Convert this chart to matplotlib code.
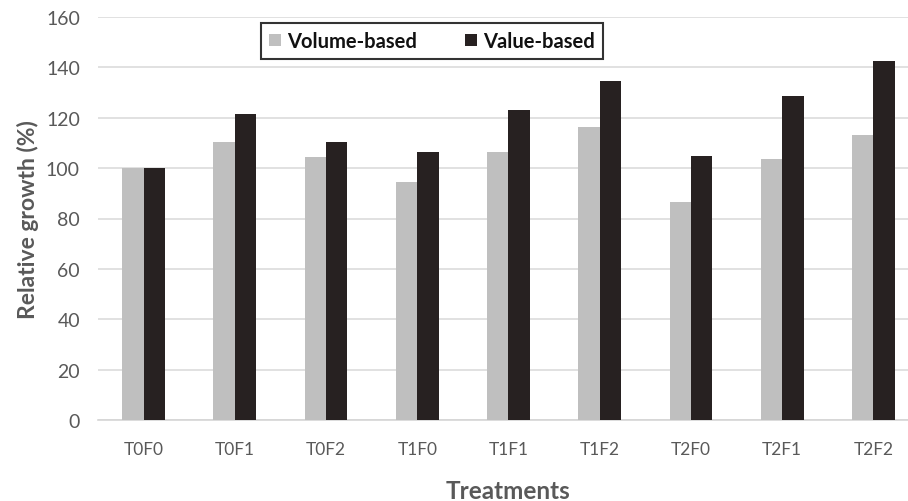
import numpy as np
import matplotlib.pyplot as plt

# data
treatments = ['T0F0', 'T0F1', 'T0F2', 'T1F0', 'T1F1', 'T1F2', 'T2F0', 'T2F1', 'T2F2']
volume_based = [100, 110.3, 104.4, 94.4, 106.3, 116.3, 86.5, 103.6, 113.1]
value_based = [100, 121.4, 110.3, 106.3, 123.0, 134.5, 104.8, 128.6, 142.5]
y_ticks = [0, 20, 40, 60, 80, 100, 120, 140, 160]

plt.rcParams['font.family'] = ['Lato', 'DejaVu Sans']

fig = plt.figure(figsize=(9.08, 5.02), dpi=100)
ax = fig.add_axes([98 / 908, 81 / 502, 821 / 908, 403 / 502])

x = np.arange(len(treatments))
w = 0.235
ax.bar(x - w / 2, volume_based, w, color='#bfbfbf', label='Volume-based', zorder=3)
ax.bar(x + w / 2, value_based, w, color='#272121', label='Value-based', zorder=3)

ax.set_xlim(-0.5, len(treatments) - 0.5)
ax.set_ylim(0, 160)
ax.set_yticks(y_ticks)
ax.set_xticks(x)
ax.set_xticklabels(treatments)
ax.grid(axis='y', color='#dcdcdc', linewidth=1.2, zorder=0)
for s in ['top', 'right', 'left']:
    ax.spines[s].set_visible(False)
ax.spines['bottom'].set_color('#d6d6d6')
ax.spines['bottom'].set_linewidth(1.2)
ax.tick_params(axis='both', length=0, colors='#595959')
ax.tick_params(axis='y', labelsize=14, pad=13)
ax.tick_params(axis='x', labelsize=12.5, pad=15)

ax.set_ylabel('Relative growth (%)', fontsize=16.5, fontweight='bold', color='#595959', labelpad=5)
ax.set_xlabel('Treatments', fontsize=17.5, fontweight='bold', color='#595959', labelpad=16)

leg = ax.legend(loc='upper left', bbox_to_anchor=(163 / 821, 0.985), ncol=2, frameon=True,
                fancybox=False, prop={'weight': 'bold', 'size': 14.5},
                handlelength=0.6, handleheight=0.6, handletextpad=0.3,
                columnspacing=2.4, borderpad=0.4, borderaxespad=0.0,
                edgecolor='black')
leg.get_frame().set_linewidth(1.5)
for t in leg.get_texts():
    t.set_color('#111111')

fig.savefig('out.png', dpi=100)
